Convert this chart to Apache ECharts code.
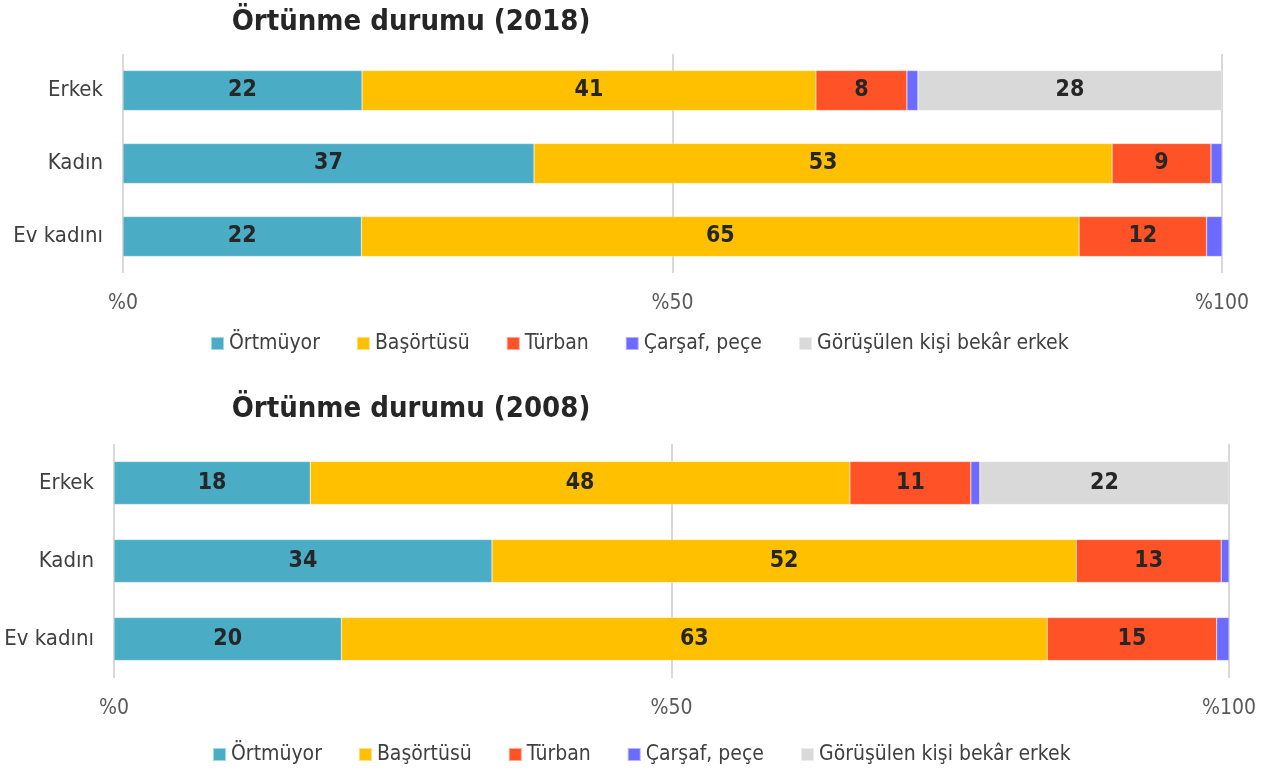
<!DOCTYPE html>
<html><head><meta charset="utf-8">
<script src="https://cdn.jsdelivr.net/npm/echarts@6/dist/echarts.min.js"></script>
<style>html,body{margin:0;padding:0;background:#fff}#c{width:1274px;height:771px}</style>
</head><body><div id="c"></div>
<script>
const categories = ['Erkek', 'Kadın', 'Ev kadını'];
const seriesNames = ['Örtmüyor', 'Başörtüsü', 'Türban', 'Çarşaf, peçe', 'Görüşülen kişi bekâr erkek'];
const titles = ['Örtünme durumu (2018)', 'Örtünme durumu (2008)'];
const tickLabels = ['%0', '%50', '%100'];
// 2018
const ortmuyor2018   = [21.75, 37.4, 21.7];
const basortusu2018  = [41.3, 52.6, 65.3];
const turban2018     = [8.28, 9.0, 11.6];
const carsaf2018     = [1.0, 1.0, 1.4];
const gorusulen2018  = [27.66, null, null];
// 2008
const ortmuyor2008   = [17.6, 33.9, 20.4];
const basortusu2008  = [48.4, 52.4, 63.3];
const turban2008     = [10.85, 13.0, 15.2];
const carsaf2008     = [0.8, 0.7, 1.1];
const gorusulen2008  = [22.35, null, null];

const colors = ['#4BACC6', '#FFC000', '#FF5226', '#6B6BFF', '#D9D9D9'];
const FONT = "'Liberation Sans Narrow', 'DejaVu Sans Condensed', sans-serif";

const data2018 = [ortmuyor2018, basortusu2018, turban2018, carsaf2018, gorusulen2018];
const data2008 = [ortmuyor2008, basortusu2008, turban2008, carsaf2008, gorusulen2008];

function mkSeries(dataSets, idx, barWidth) {
  return dataSets.map((d, i) => ({
    name: seriesNames[i], type: 'bar', stack: 's' + idx,
    xAxisIndex: idx, yAxisIndex: idx, barWidth: barWidth,
    data: d,
    itemStyle: { color: colors[i], borderColor: 'rgba(255,255,255,0.5)', borderWidth: 0.5 },
    label: {
      show: i !== 3, position: 'inside', fontFamily: FONT, fontWeight: 'bold',
      fontSize: 23, color: '#262626',
      formatter: p => p.value == null ? '' : String(Math.round(p.value))
    },
    emphasis: { disabled: true }, animation: false
  }));
}

function xAx(idx) {
  return {
    type: 'value', gridIndex: idx, min: 0, max: 100, interval: 50,
    axisLine: { show: false }, axisTick: { show: false },
    splitLine: { lineStyle: { color: '#D9D9D9', width: 2 } },
    axisLabel: { fontFamily: FONT, fontSize: 21, color: '#595959', margin: 20,
      formatter: v => tickLabels[Math.round(v / 50)] }
  };
}
function yAx(idx) {
  return {
    type: 'category', gridIndex: idx, data: categories, inverse: true,
    axisLine: { show: false }, axisTick: { show: false },
    axisLabel: { fontFamily: FONT, fontSize: 22, color: '#404040', margin: 20 }
  };
}
function legend(top, left) {
  return {
    data: seriesNames, top: top, left: left, itemWidth: 13, itemHeight: 13, itemGap: 36,
    icon: 'rect', selectedMode: false,
    textStyle: { fontFamily: FONT, fontSize: 21, color: '#404040' }
  };
}

const chart = echarts.init(document.getElementById('c'), null, { renderer: 'canvas' });
chart.setOption({
  animation: false,
  title: [
    { text: titles[0], left: 406, top: 3, textAlign: 'center',
      textStyle: { fontFamily: FONT, fontSize: 29, fontWeight: 'bold', color: '#262626' } },
    { text: titles[1], left: 406, top: 390, textAlign: 'center',
      textStyle: { fontFamily: FONT, fontSize: 29, fontWeight: 'bold', color: '#262626' } }
  ],
  legend: [legend(328, 205), legend(739, 207)],
  grid: [
    { left: 123, right: 52, top: 54, height: 219 },
    { left: 114, right: 45, top: 444, height: 234 }
  ],
  xAxis: [xAx(0), xAx(1)],
  yAxis: [yAx(0), yAx(1)],
  series: mkSeries(data2018, 0, 40).concat(mkSeries(data2008, 1, 43))
});
</script></body></html>
